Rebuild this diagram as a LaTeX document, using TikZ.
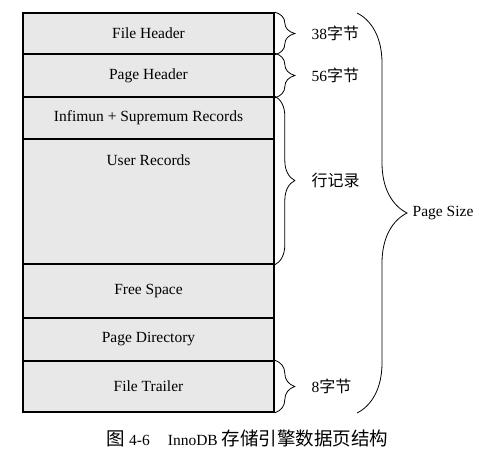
\documentclass[tikz,border=0pt]{standalone}
\usepackage{fontspec}
\setmainfont{Liberation Serif}
\newfontfamily\cjk{Noto Sans CJK SC}
\usetikzlibrary{positioning,decorations.pathreplacing}

\begin{document}
\begin{tikzpicture}[x=1pt,y=-1pt,
  cell/.style={draw, line width=1.6pt, fill=black!9, minimum width=251pt, inner sep=0pt, font=\fontsize{15.5}{18}\selectfont},
  lbl/.style={font=\fontsize{15.5}{18}\selectfont},
  sbrace/.style={decorate, decoration={brace, amplitude=20pt}, line width=0.8pt},
  bbrace/.style={decorate, decoration={brace, amplitude=50pt}, line width=0.8pt}]
\useasboundingbox (0,0) rectangle (495,457);

\node[cell, minimum height=41pt] at (148.5,33.5) (fileheader) {File Header};
\node[cell, minimum height=43pt] at (148.5,75.5) (pageheader) {Page Header};
\node[cell, minimum height=42pt] at (148.5,118) (infimum) {Infimun + Supremum Records};
\node[cell, minimum height=125pt] at (148.5,201.5) (userrec) {};
\node[lbl] at (148.5,160) (userlbl) {User Records};
\node[cell, minimum height=54pt] at (148.5,291) (freespace) {Free Space};
\node[cell, minimum height=43pt] at (148.5,339.5) (pagedir) {Page Directory};
\node[cell, minimum height=51pt] at (148.5,386.5) (filetrailer) {File Trailer};

\coordinate (bigtop) at (357,13);
\coordinate (bigbot) at (357,413);

\draw[sbrace] (fileheader.north east) -- (fileheader.south east) node[midway, lbl, right=33pt] (sz38) {38{\cjk\fontsize{16}{18}\selectfont 字节}};
\draw[sbrace] (pageheader.north east) -- (pageheader.south east) node[midway, lbl, right=33pt] (sz56) {56{\cjk\fontsize{16}{18}\selectfont 字节}};
\draw[sbrace] (infimum.north east) -- (userrec.south east) node[midway, lbl, right=33pt] (rows) {{\cjk\fontsize{16}{18}\selectfont 行记录}};
\draw[sbrace] (filetrailer.north east) -- (filetrailer.south east) node[midway, lbl, right=33pt] (sz8) {8{\cjk\fontsize{16}{18}\selectfont 字节}};

\draw[bbrace] (bigtop) -- (bigbot) node[midway, lbl, right=52pt] (pagesize) {Page Size};

\node[lbl] at (247.5,438) (caption) {{\cjk\fontsize{18.5}{20}\selectfont 图} 4-6\hspace{18pt}InnoDB {\cjk\fontsize{18.5}{20}\selectfont 存储引擎数据页结构}};
\end{tikzpicture}
\end{document}
